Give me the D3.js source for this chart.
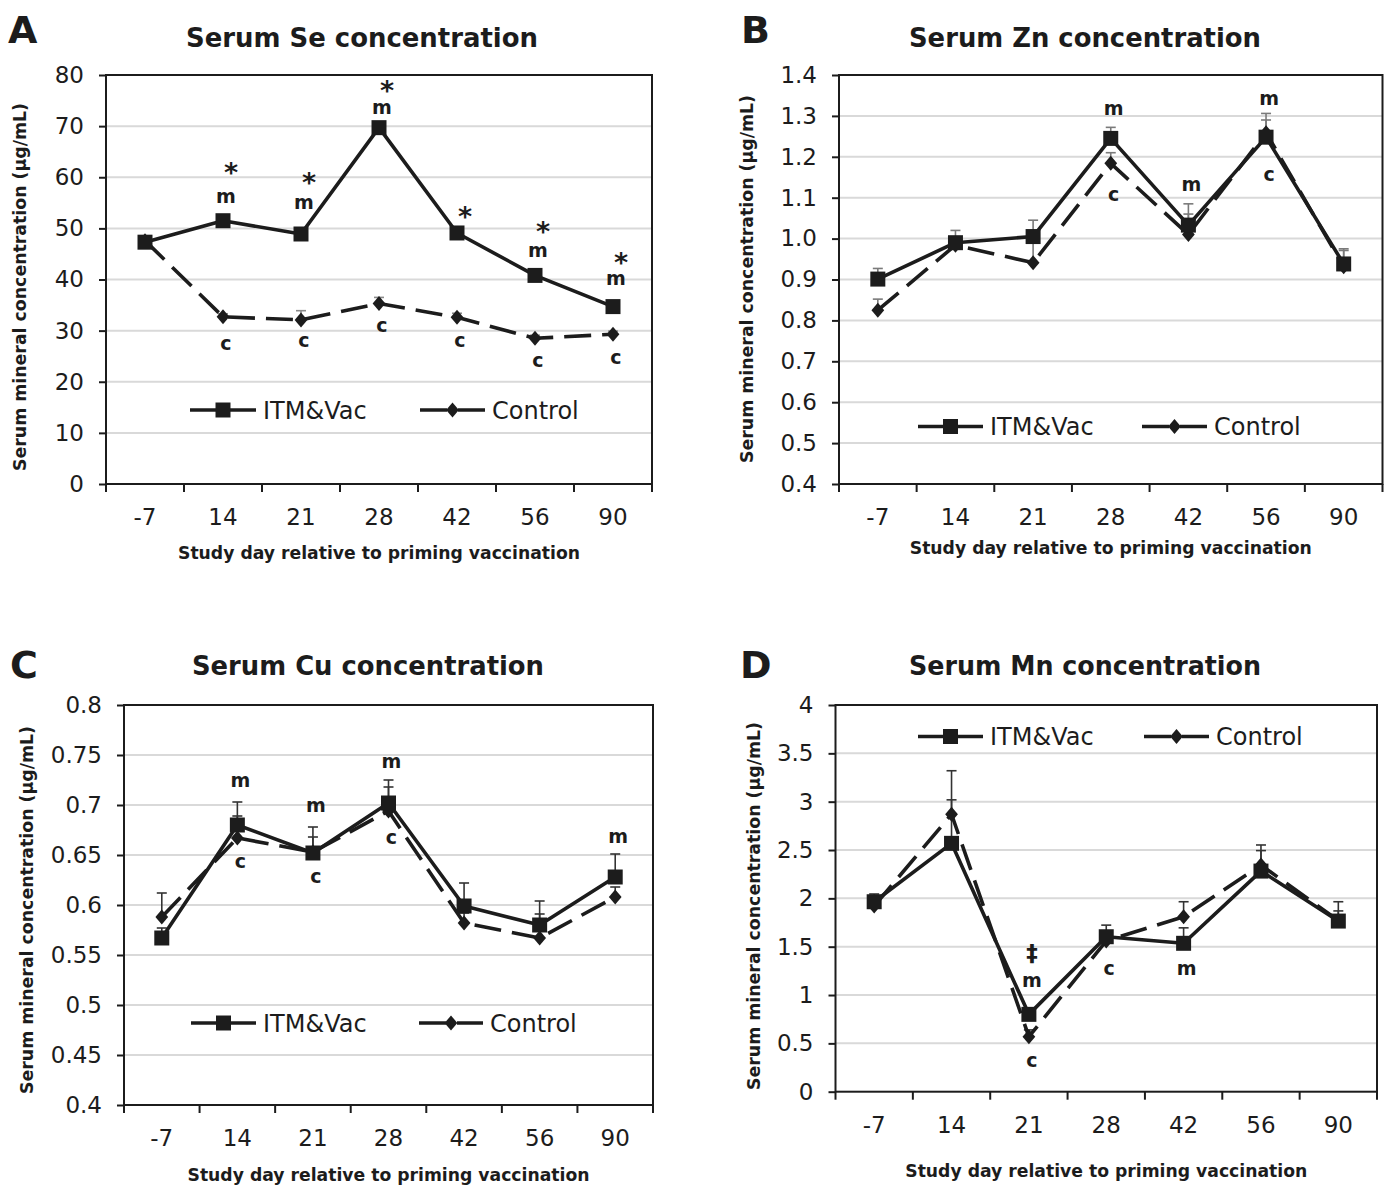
<!DOCTYPE html>
<html>
<head>
<meta charset="utf-8">
<script src="https://cdn.jsdelivr.net/npm/d3@7"></script>
<style>
  body { margin: 0; background: #fff; }
  svg { display: block; }
</style>
</head>
<body>
<svg id="chart" width="1392" height="1186"></svg>
<script>
// ---- data ----
var days = ['-7', '14', '21', '28', '42', '56', '90'];
var seriesNames = ['ITM&Vac', 'Control'];

// Serum Se (ug/mL)
var seItm    = [47.3, 51.5, 48.9, 69.7, 49.1, 40.8, 34.7];
var seItmErr = [0.6, 0.8, 1.2, 0.8, 0.7, 0.7, 0.6];
var seCtl    = [47.6, 32.7, 32.1, 35.3, 32.6, 28.5, 29.3];
var seCtlErr = [0.6, 0.6, 1.8, 1.2, 0.8, 0.6, 0.6];
var seTicks  = [0, 10, 20, 30, 40, 50, 60, 70, 80];
var seNotes  = [['14', '*', 61.8], ['14', 'm', 56.1], ['14', 'c', 27.3],
                ['21', '*', 59.8], ['21', 'm', 54.8], ['21', 'c', 27.8],
                ['28', '*', 77.8], ['28', 'm', 73.4], ['28', 'c', 30.7],
                ['42', '*', 53.2], ['42', 'c', 27.9],
                ['56', '*', 50.1], ['56', 'm', 45.5], ['56', 'c', 24.0],
                ['90', '*', 44.2], ['90', 'm', 40.0], ['90', 'c', 24.6]];

// Serum Zn
var znItm    = [0.901, 0.990, 1.005, 1.245, 1.033, 1.248, 0.938];
var znItmErr = [0.026, 0.030, 0.040, 0.027, 0.052, 0.058, 0.037];
var znCtl    = [0.825, 0.984, 0.941, 1.184, 1.010, 1.259, 0.931];
var znCtlErr = [0.027, 0.020, 0.049, 0.026, 0.050, 0.031, 0.040];
var znTicks  = [0.4, 0.5, 0.6, 0.7, 0.8, 0.9, 1.0, 1.1, 1.2, 1.3, 1.4];
var znNotes  = [['28', 'm', 1.316], ['28', 'c', 1.104], ['42', 'm', 1.129],
                ['56', 'm', 1.339], ['56', 'c', 1.153]];

// Serum Cu
var cuItm    = [0.567, 0.680, 0.652, 0.702, 0.599, 0.580, 0.628];
var cuItmErr = [0.010, 0.023, 0.026, 0.023, 0.023, 0.024, 0.023];
var cuCtl    = [0.588, 0.667, 0.653, 0.694, 0.582, 0.567, 0.608];
var cuCtlErr = [0.024, 0.022, 0.015, 0.024, 0.010, 0.024, 0.010];
var cuTicks  = [0.4, 0.45, 0.5, 0.55, 0.6, 0.65, 0.7, 0.75, 0.8];
var cuNotes  = [['14', 'm', 0.723], ['14', 'c', 0.642], ['21', 'm', 0.698], ['21', 'c', 0.627],
                ['28', 'm', 0.742], ['28', 'c', 0.666], ['90', 'm', 0.667]];

// Serum Mn
var mnItm    = [1.965, 2.569, 0.80, 1.603, 1.535, 2.282, 1.765];
var mnItmErr = [0.08, 0.45, 0.05, 0.12, 0.16, 0.27, 0.20];
var mnCtl    = [1.92, 2.87, 0.569, 1.56, 1.81, 2.344, 1.77];
var mnCtlErr = [0.08, 0.45, 0.07, 0.10, 0.155, 0.15, 0.10];
var mnTicks  = [0, 0.5, 1, 1.5, 2, 2.5, 3, 3.5, 4];
var mnNotes  = [['21', '\u2021', 1.432], ['21', 'm', 1.138], ['21', 'c', 0.31],
                ['28', 'c', 1.259], ['42', 'm', 1.266]];

var xTitle = 'Study day relative to priming vaccination';
var yTitle = 'Serum mineral concentration (\u00b5g/mL)';

// ---- layout ----
var panels = [
  { letter: 'A', title: 'Serum Se concentration', itm: seItm, itmErr: seItmErr, ctl: seCtl, ctlErr: seCtlErr,
    ticks: seTicks, fmt: function(d){ return d; }, notes: seNotes, errColor: '#8a8a8a',
    x0: 106, x1: 652, y0: 75, y1: 484,
    letterX: 8, letterY: 43, titleX: 362, titleY: 47,
    yTitleX: 20, yTitleY: 287, xTitleY: 553,
    legY: 410, leg: [190, 256, 420, 485] },
  { letter: 'B', title: 'Serum Zn concentration', itm: znItm, itmErr: znItmErr, ctl: znCtl, ctlErr: znCtlErr,
    ticks: znTicks, fmt: d3.format('.1f'), notes: znNotes, errColor: '#7a7a7a',
    x0: 839, x1: 1382.5, y0: 75, y1: 484,
    letterX: 741, letterY: 43, titleX: 1085, titleY: 47,
    yTitleX: 747, yTitleY: 279, xTitleY: 548,
    legY: 426.5, leg: [918, 983, 1142, 1207] },
  { letter: 'C', title: 'Serum Cu concentration', itm: cuItm, itmErr: cuItmErr, ctl: cuCtl, ctlErr: cuCtlErr,
    ticks: cuTicks, fmt: function(d){ return d; }, notes: cuNotes, errColor: '#333',
    x0: 124, x1: 653, y0: 705, y1: 1105,
    letterX: 10, letterY: 678, titleX: 368, titleY: 675,
    yTitleX: 27, yTitleY: 910, xTitleY: 1175,
    legY: 1023, leg: [191, 256, 419, 483] },
  { letter: 'D', title: 'Serum Mn concentration', itm: mnItm, itmErr: mnItmErr, ctl: mnCtl, ctlErr: mnCtlErr,
    ticks: mnTicks, fmt: function(d){ return d; }, notes: mnNotes, errColor: '#333',
    x0: 835.5, x1: 1377, y0: 705, y1: 1091.7,
    letterX: 740, letterY: 678, titleX: 1085, titleY: 675,
    yTitleX: 754, yTitleY: 906, xTitleY: 1171,
    legY: 736.5, leg: [918, 983, 1144, 1209] }
];

var ink = '#1c1c1c';
var dash = '27,11';
var light = "'DejaVu Sans', sans-serif";
var bold = "'DejaVu Sans', sans-serif";

// diamond a bit wider than d3's own
var diamond = {
  draw: function(ctx, size) {
    var h = Math.sqrt(size) / 2, w = h * 0.85;
    ctx.moveTo(0, -h); ctx.lineTo(w, 0); ctx.lineTo(0, h); ctx.lineTo(-w, 0); ctx.closePath();
  }
};
var squarePath = d3.symbol(d3.symbolSquare, 225)();
var diamondPath = d3.symbol(diamond, 225)();

var svg = d3.select('#chart');

panels.forEach(function(p) {
  var x = d3.scaleBand().domain(days).range([p.x0, p.x1]).padding(0);
  var y = d3.scaleLinear().domain(d3.extent(p.ticks)).range([p.y1, p.y0]);
  var cx = function(d) { return x(d) + x.bandwidth() / 2; };
  var g = svg.append('g');

  // panel letter and title
  g.append('text').attr('x', p.letterX).attr('y', p.letterY)
    .style('font', 'bold 38px ' + bold).attr('fill', ink).text(p.letter);
  g.append('text').attr('x', p.titleX).attr('y', p.titleY).attr('text-anchor', 'middle')
    .attr('textLength', 352).attr('lengthAdjust', 'spacingAndGlyphs')
    .style('font', 'bold 26px ' + bold).attr('fill', ink).text(p.title);

  // gridlines
  g.append('g').selectAll('line').data(p.ticks.slice(1, -1)).join('line')
    .attr('x1', p.x0).attr('x2', p.x1)
    .attr('y1', function(d){ return y(d); }).attr('y2', function(d){ return y(d); })
    .attr('stroke', '#d9d9d9').attr('stroke-width', 2);

  // y axis
  var ya = g.append('g').attr('transform', 'translate(' + p.x0 + ',0)')
    .call(d3.axisLeft(y).tickValues(p.ticks).tickFormat(p.fmt).tickSize(7).tickPadding(15));
  ya.select('.domain').remove();
  ya.selectAll('line').attr('stroke', ink).attr('stroke-width', 2);
  ya.selectAll('text').style('font', '23px ' + light).attr('fill', ink);

  // x axis: labels at centres, ticks at category edges
  var xa = g.append('g').attr('transform', 'translate(0,' + p.y1 + ')')
    .call(d3.axisBottom(x).tickSize(0));
  xa.select('.domain').remove();
  xa.selectAll('text').attr('y', 33).attr('dy', '0.36em')
    .style('font', '23px ' + light).attr('fill', ink);
  var edges = d3.range(days.length + 1).map(function(i){ return p.x0 + i * x.step(); });
  g.append('g').selectAll('line').data(edges).join('line')
    .attr('x1', function(d){ return d; }).attr('x2', function(d){ return d; })
    .attr('y1', p.y1).attr('y2', p.y1 + 8)
    .attr('stroke', ink).attr('stroke-width', 2);

  // plot border
  g.append('rect').attr('x', p.x0).attr('y', p.y0)
    .attr('width', p.x1 - p.x0).attr('height', p.y1 - p.y0)
    .attr('fill', 'none').attr('stroke', ink).attr('stroke-width', 2);

  // axis titles
  g.append('text').attr('x', (p.x0 + p.x1) / 2).attr('y', p.xTitleY).attr('dy', '0.36em')
    .attr('text-anchor', 'middle').attr('textLength', 402).attr('lengthAdjust', 'spacingAndGlyphs')
    .style('font', 'bold 18px ' + bold).attr('fill', ink).text(xTitle);
  g.append('text').attr('transform', 'translate(' + p.yTitleX + ',' + p.yTitleY + ') rotate(-90)')
    .attr('dy', '0.36em').attr('text-anchor', 'middle')
    .attr('textLength', 368).attr('lengthAdjust', 'spacingAndGlyphs')
    .style('font', 'bold 17px ' + bold).attr('fill', ink).text(yTitle);

  // series
  var series = [
    { vals: p.ctl, err: p.ctlErr, dash: dash, mark: diamondPath },
    { vals: p.itm, err: p.itmErr, dash: null, mark: squarePath }
  ];

  series.forEach(function(s) {
    var pts = days.map(function(d, i){ return { day: d, v: s.vals[i], e: s.err[i] }; });
    var eb = g.append('g').attr('stroke', p.errColor).attr('stroke-width', 1.6);
    eb.selectAll('.stem').data(pts).join('line').attr('class', 'stem')
      .attr('x1', function(d){ return cx(d.day); }).attr('x2', function(d){ return cx(d.day); })
      .attr('y1', function(d){ return y(d.v); }).attr('y2', function(d){ return y(d.v + d.e); });
    eb.selectAll('.cap').data(pts).join('line').attr('class', 'cap')
      .attr('x1', function(d){ return cx(d.day) - 5; }).attr('x2', function(d){ return cx(d.day) + 5; })
      .attr('y1', function(d){ return y(d.v + d.e); }).attr('y2', function(d){ return y(d.v + d.e); });
  });

  series.forEach(function(s) {
    var pts = days.map(function(d, i){ return { day: d, v: s.vals[i] }; });
    g.append('path').datum(pts)
      .attr('d', d3.line().x(function(d){ return cx(d.day); }).y(function(d){ return y(d.v); }))
      .attr('fill', 'none').attr('stroke', ink).attr('stroke-width', 3.6)
      .attr('stroke-linejoin', 'round')
      .attr('stroke-dasharray', s.dash);
    g.append('g').selectAll('path').data(pts).join('path')
      .attr('transform', function(d){ return 'translate(' + cx(d.day) + ',' + y(d.v) + ')'; })
      .attr('d', s.mark).attr('fill', ink);
  });

  // significance letters
  g.append('g').selectAll('text').data(p.notes).join('text')
    .attr('x', function(d){ return cx(d[0]) + (d[1] === '*' ? 8 : 3); })
    .attr('y', function(d){ return y(d[2]); })
    .attr('dy', function(d){ return d[1] === '*' ? '0.5em' : (d[1] === 'm' || d[1] === 'c') ? '0.28em' : '0.33em'; })
    .attr('text-anchor', 'middle')
    .style('font', function(d){
      return d[1] === '*' ? 'bold 27px ' + bold :
             d[1] === '\u2021' ? 'bold 23px ' + bold : 'bold 19px ' + bold;
    })
    .attr('fill', ink).text(function(d){ return d[1]; });

  // legend
  var legend = [
    { name: seriesNames[0], a: p.leg[0], b: p.leg[1], dash: null, mark: squarePath },
    { name: seriesNames[1], a: p.leg[2], b: p.leg[3], dash: dash, mark: diamondPath }
  ];
  legend.forEach(function(l) {
    g.append('line').attr('x1', l.a).attr('x2', l.b).attr('y1', p.legY).attr('y2', p.legY)
      .attr('stroke', ink).attr('stroke-width', 3.6).attr('stroke-dasharray', l.dash);
    g.append('path').attr('transform', 'translate(' + ((l.a + l.b) / 2) + ',' + p.legY + ')')
      .attr('d', l.mark).attr('fill', ink);
    g.append('text').attr('x', l.b + 7).attr('y', p.legY).attr('dy', '0.36em')
      .style('font', '24px ' + light).attr('fill', ink).text(l.name);
  });
});
</script>
</body>
</html>
